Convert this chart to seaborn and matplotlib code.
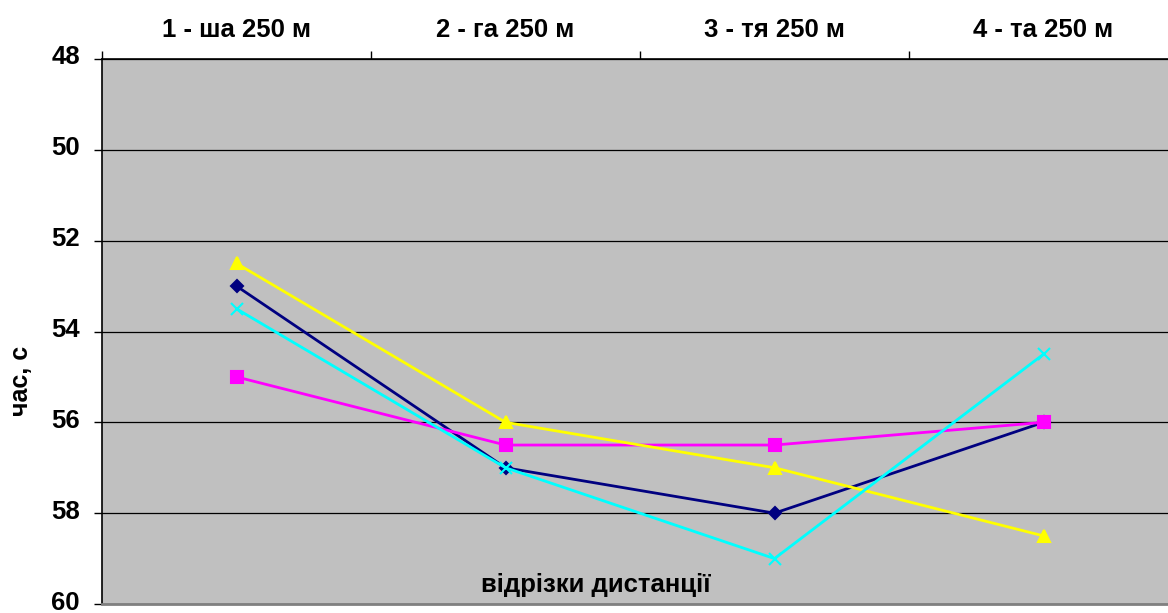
import numpy as np
import pandas as pd
import matplotlib
matplotlib.use("Agg")
import matplotlib.pyplot as plt
import matplotlib.transforms as mtransforms
import seaborn as sns

# --------------------------------------------------
# Data
# --------------------------------------------------

segments = ["1 - ша 250 м", "2 - га 250 м", "3 - тя 250 м", "4 - та 250 м"]

series_navy = [53.0, 57.0, 58.0, 56.0]
series_magenta = [55.0, 56.5, 56.5, 56.0]
series_yellow = [52.5, 56.0, 57.0, 58.5]
series_cyan = [53.5, 57.0, 59.0, 54.5]

y_ticks = [48, 50, 52, 54, 56, 58, 60]

series = {
    "navy": series_navy,
    "magenta": series_magenta,
    "yellow": series_yellow,
    "cyan": series_cyan,
}

rows = []
for name, values in series.items():
    for pos, value in enumerate(values):
        rows.append({"pos": pos, "time": value, "series": name})
df = pd.DataFrame(rows)

# --------------------------------------------------
# Style
# --------------------------------------------------

sns.set_style("white")
plt.rcParams["font.family"] = ["Liberation Sans", "DejaVu Sans"]
plt.rcParams["font.weight"] = "bold"
plt.rcParams["text.color"] = "black"
plt.rcParams["axes.labelcolor"] = "black"
plt.rcParams["xtick.color"] = "black"
plt.rcParams["ytick.color"] = "black"

palette = {
    "navy": "#000080",
    "magenta": "#FF00FF",
    "yellow": "#FFFF00",
    "cyan": "#00FFFF",
}
markers = {"navy": "D", "magenta": "s", "yellow": "^", "cyan": "x"}
marker_sizes = {"navy": 6, "magenta": 8, "yellow": 9, "cyan": 9}

fig = plt.figure(figsize=(11.68, 6.13), dpi=100)
ax = fig.add_axes([102 / 1168, 1 - 604 / 613, 1076 / 1168, 545 / 613])
ax.set_facecolor("#C0C0C0")

for name in ["navy", "magenta", "yellow", "cyan"]:
    sub = df[df["series"] == name]
    sns.lineplot(
        data=sub,
        x="pos",
        y="time",
        color=palette[name],
        marker=markers[name],
        markersize=marker_sizes[name],
        markeredgecolor=palette[name],
        markeredgewidth=1.5,
        linewidth=2.0,
        ax=ax,
        legend=False,
    )

# --------------------------------------------------
# Axes
# --------------------------------------------------

ax.set_xlim(-0.5, 3.5)
ax.set_ylim(60, 48)
ax.set_yticks(y_ticks)
ax.set_yticklabels([str(t) for t in y_ticks], fontsize=18.5, fontweight="bold")

ax.xaxis.tick_top()
ax.set_xticks(range(len(segments)))
ax.set_xticklabels(segments, fontsize=18.5, fontweight="bold")
ax.set_xticks(np.arange(-0.5, 4.0, 1.0), minor=True)
ax.tick_params(axis="x", which="major", length=0, pad=12)
ax.tick_params(axis="x", which="minor", length=6, width=1, color="black", direction="out", top=True)
ax.tick_params(axis="y", length=6, width=1, color="black", direction="out", left=True, pad=10)

# nudge y labels up a few pixels so "60" stays inside the figure
# (done after tick_params, which resets the label transforms)
shift = mtransforms.ScaledTranslation(0, 4 / 100, fig.dpi_scale_trans)
for tick in ax.yaxis.get_major_ticks():
    tick.label1.set_transform(tick.label1.get_transform() + shift)

ax.grid(axis="y", color="black", linewidth=0.9)
ax.set_axisbelow(True)

for side in ["left", "top"]:
    ax.spines[side].set_color("black")
    ax.spines[side].set_linewidth(1.2)
ax.spines["bottom"].set_color("#808080")
ax.spines["bottom"].set_linewidth(2)
ax.spines["right"].set_visible(False)

ax.set_xlabel("")
ax.set_ylabel("час, с", fontsize=18, fontweight="bold")
ax.yaxis.set_label_coords(-0.064, 0.41)

ax.text(
    494 / 1076, 0.035, "відрізки дистанції",
    transform=ax.transAxes, ha="center", va="center",
    fontsize=18.5, fontweight="bold",
)

fig.savefig("out.png", dpi=100)
